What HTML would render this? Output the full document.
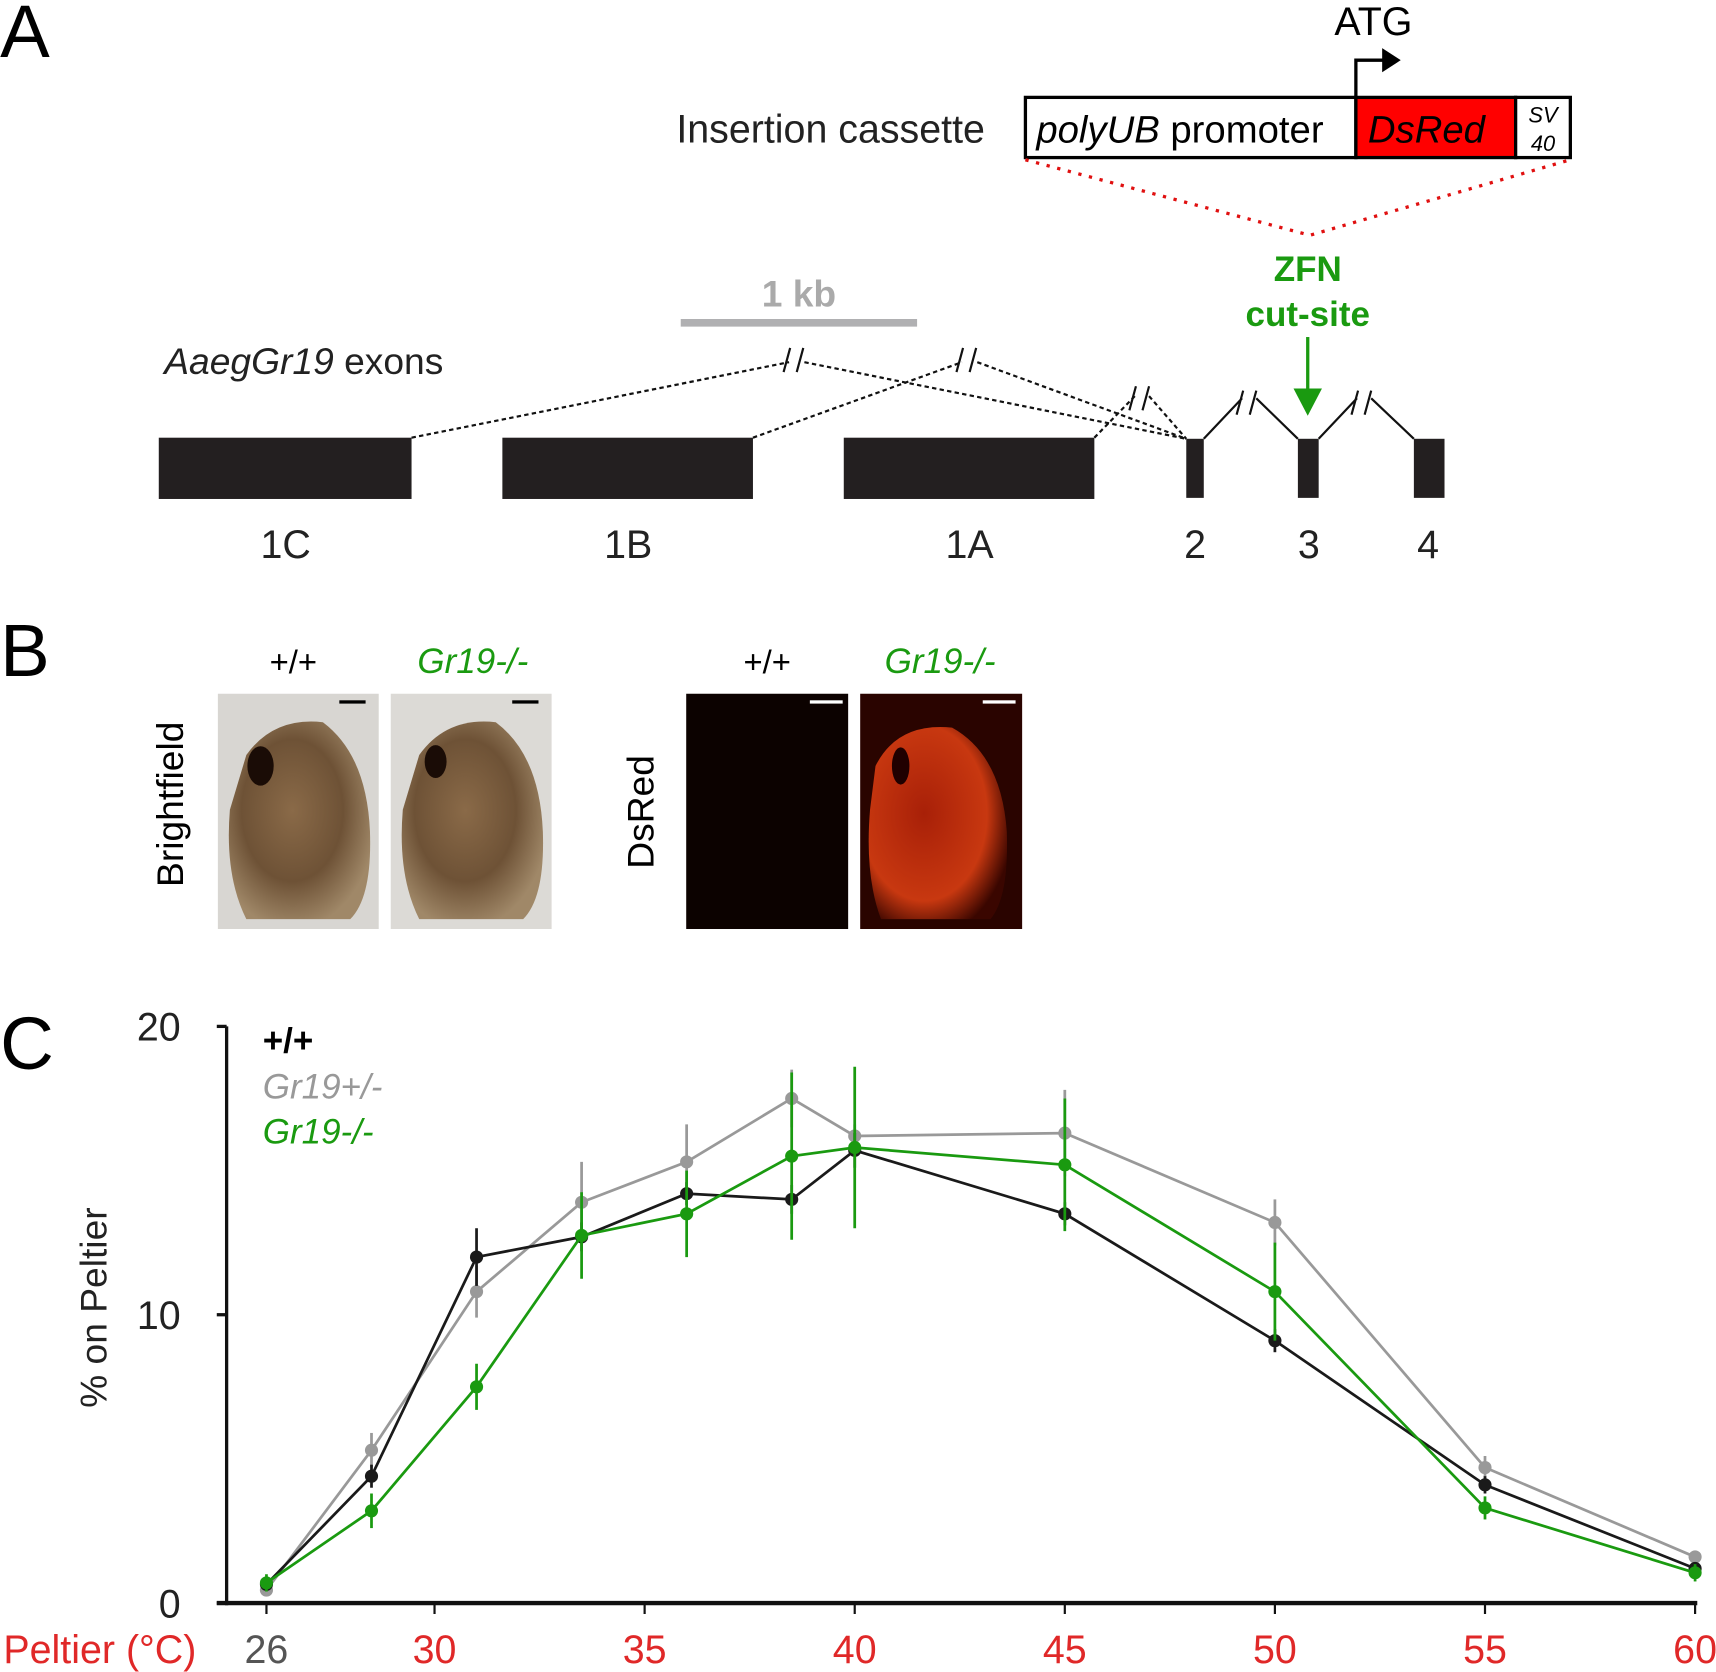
<!DOCTYPE html>
<html><head><meta charset="utf-8"><style>
html,body{margin:0;padding:0;background:#fff;}
svg{display:block;font-family:"Liberation Sans",Arial,sans-serif;}
</style></head><body>
<svg id="fig" width="1716" height="1672" viewBox="0 0 1568 1528">
<defs>
<radialGradient id="pupa" cx="45%" cy="45%" r="60%"><stop offset="0" stop-color="#8a6a48"/><stop offset="0.6" stop-color="#6e5236"/><stop offset="1" stop-color="#a08868"/></radialGradient>
<radialGradient id="fluor" cx="40%" cy="45%" r="65%"><stop offset="0" stop-color="#a82008"/><stop offset="0.7" stop-color="#c83810"/><stop offset="1" stop-color="#3a0600"/></radialGradient>
</defs>
<!-- Panel A -->
<g>
<text x="0" y="52" font-size="68">A</text>
<text x="1255" y="32" font-size="36" text-anchor="middle">ATG</text>
<path d="M1239,89 V55 H1265" fill="none" stroke="#000" stroke-width="3"/>
<polygon points="1263,44 1280,55 1263,66" fill="#000"/>
<text x="900" y="130" font-size="36" text-anchor="end" fill="#222">Insertion cassette</text>
<rect x="937" y="89" width="302" height="55" fill="#fff" stroke="#000" stroke-width="3"/>
<rect x="1239" y="89" width="146" height="55" fill="#ff0000" stroke="#000" stroke-width="3"/>
<rect x="1385" y="89" width="50" height="55" fill="#fff" stroke="#000" stroke-width="3"/>
<text x="947" y="130" font-size="35"><tspan font-style="italic">polyUB</tspan> promoter</text>
<text x="1250" y="130" font-size="35" font-style="italic">DsRed</text>
<text x="1410" y="112" font-size="20" font-style="italic" text-anchor="middle">SV</text>
<text x="1410" y="138" font-size="20" font-style="italic" text-anchor="middle">40</text>
<path d="M937,146 L1197,215 L1435,146" fill="none" stroke="#e01010" stroke-width="3" stroke-dasharray="3,7"/>
<text x="1195" y="257" font-size="32" font-weight="bold" fill="#1a9a10" text-anchor="middle">ZFN</text>
<text x="1195" y="298" font-size="32" font-weight="bold" fill="#1a9a10" text-anchor="middle">cut-site</text>
<line x1="1195" y1="308" x2="1195" y2="360" stroke="#1a9a10" stroke-width="3"/>
<polygon points="1182,355 1208,355 1195,380" fill="#1a9a10"/>
<line x1="622" y1="295" x2="838" y2="295" stroke="#b0b0b2" stroke-width="7"/>
<text x="730" y="280" font-size="34" font-weight="bold" fill="#aaa" text-anchor="middle">1 kb</text>
<text x="150" y="342" font-size="34" fill="#222"><tspan font-style="italic">AaegGr19</tspan> exons</text>
<g fill="none" stroke="#111" stroke-width="2" stroke-dasharray="4,3">
<path d="M376,400 L721,331 M735,331 L1084,401"/>
<path d="M688,400 L879,331 M893,331 L1084,401"/>
<path d="M1000,400 L1037,362 M1050,362 L1084,401"/>
</g>
<g fill="none" stroke="#111" stroke-width="2">
<path d="M1100,401 L1135,364 M1148,364 L1186,401"/>
<path d="M1205,401 L1240,364 M1253,364 L1292,401"/>
<path d="M716,340 L722,318 M728,340 L734,318 M874,340 L880,318 M886,340 L892,318 M1032,375 L1038,353 M1044,375 L1050,353 M1130,379 L1136,357 M1142,379 L1148,357 M1235,379 L1241,357 M1247,379 L1253,357"/>
</g>
<g fill="#231f20">
<rect x="145" y="400" width="231" height="56"/>
<rect x="459" y="400" width="229" height="56"/>
<rect x="771" y="400" width="229" height="56"/>
<rect x="1084" y="401" width="16" height="54"/>
<rect x="1186" y="401" width="19" height="54"/>
<rect x="1292" y="401" width="28" height="54"/>
</g>
<g font-size="36" text-anchor="middle" fill="#222">
<text x="261" y="510">1C</text><text x="574" y="510">1B</text><text x="886" y="510">1A</text>
<text x="1092" y="510">2</text><text x="1196" y="510">3</text><text x="1305" y="510">4</text>
</g>
</g>
<!-- Panel B -->
<g>
<text x="0" y="618" font-size="68">B</text>
<text x="268" y="615" font-size="30" text-anchor="middle">+/+</text>
<text x="432" y="615" font-size="32" font-style="italic" fill="#1a9a10" text-anchor="middle">Gr19-/-</text>
<text x="701" y="615" font-size="30" text-anchor="middle">+/+</text>
<text x="859" y="615" font-size="32" font-style="italic" fill="#1a9a10" text-anchor="middle">Gr19-/-</text>
<text transform="translate(167,735) rotate(-90)" font-size="34" text-anchor="middle">Brightfield</text>
<text transform="translate(597,742) rotate(-90)" font-size="34" text-anchor="middle">DsRed</text>
<g>
<rect x="199" y="634" width="147" height="215" fill="#d8d6d2"/>
<path d="M225,690 Q250,655 295,660 Q335,690 338,760 Q340,820 320,840 L225,840 Q205,800 210,740 Z" fill="url(#pupa)"/>
<ellipse cx="238" cy="700" rx="12" ry="18" fill="#1a0c06"/>
<rect x="310" y="640" width="24" height="3" fill="#000"/>
</g>
<g>
<rect x="357" y="634" width="147" height="215" fill="#dcdad6"/>
<path d="M383,690 Q408,655 453,660 Q493,690 496,760 Q498,820 478,840 L383,840 Q363,800 368,740 Z" fill="url(#pupa)"/>
<ellipse cx="398" cy="696" rx="10" ry="15" fill="#1a0c06"/>
<rect x="468" y="640" width="24" height="3" fill="#000"/>
</g>
<g>
<rect x="627" y="634" width="148" height="215" fill="#0c0200"/>
<rect x="740" y="640" width="30" height="3" fill="#fff"/>
</g>
<g>
<rect x="786" y="634" width="148" height="215" fill="#2a0400"/>
<path d="M800,700 Q820,660 870,665 Q915,690 920,760 Q922,820 905,840 L805,840 Q790,800 795,740 Z" fill="url(#fluor)"/>
<ellipse cx="823" cy="700" rx="8" ry="17" fill="#200000"/>
<rect x="898" y="640" width="30" height="3" fill="#fff"/>
</g>
</g>
<!-- Panel C -->
<text x="0" y="977" font-size="68">C</text>
<g id="chart"></g>
</svg>
<script>
const temps = [26, 28.5, 31, 33.5, 36, 38.5, 40, 45, 50, 55, 60];
const wtVals = [0.65, 4.4, 12.0, 12.7, 14.2, 14.0, 15.7, 13.5, 9.1, 4.1, 1.2];
const wtErr = [0.2, 0.4, 1.0, 0.5, 0.4, 0.5, 0.6, 0.4, 0.4, 0.3, 0.2];
const hetVals = [0.45, 5.3, 10.8, 13.9, 15.3, 17.5, 16.2, 16.3, 13.2, 4.7, 1.6];
const hetErr = [0.2, 0.6, 0.9, 1.4, 1.3, 1.0, 0.4, 1.5, 0.8, 0.4, 0.2];
const koVals = [0.7, 3.2, 7.5, 12.75, 13.5, 15.5, 15.8, 15.2, 10.8, 3.3, 1.05];
const koErr = [0.3, 0.6, 0.8, 1.5, 1.5, 2.9, 2.8, 2.3, 1.7, 0.4, 0.3];
const xTicks = [26, 30, 35, 40, 45, 50, 55, 60];
const yTicks = [0, 10, 20];

const NS = 'http://www.w3.org/2000/svg';
const g = document.getElementById('chart');
function X(t){ return 781 + (t - 40) * 38.4; }
function Y(v){ return 1465 - v * 26.35; }
function mk(tag, attrs, parent){
  const e = document.createElementNS(NS, tag);
  for (const k in attrs) e.setAttribute(k, attrs[k]);
  (parent || g).appendChild(e);
  return e;
}
let e;
e = mk('line', {x1:207, y1:Y(20), x2:207, y2:1467, stroke:'#111', 'stroke-width':3});


e = mk('line', {x1:198, y1:1465, x2:1551, y2:1465, stroke:'#111', 'stroke-width':4});


yTicks.forEach(v => {
  mk('line', {x1:198, y1:Y(v), x2:207, y2:Y(v), stroke:'#111', 'stroke-width':3});
  const t = mk('text', {x:165, y:Y(v)+13, 'font-size':36, 'text-anchor':'end', fill:'#222'});
  t.textContent = v;
  
  
});
xTicks.forEach(v => {
  mk('line', {x1:X(v), y1:1465, x2:X(v), y2:1475, stroke:'#111', 'stroke-width':2});
  const t = mk('text', {x:X(v), y:1520, 'font-size':36, 'text-anchor':'middle', fill: v===26 ? '#555' : '#e02828'});
  t.textContent = v;
  
  
});
e = mk('text', {x:3, y:1520, 'font-size':36, fill:'#e02828'});
e.textContent = 'Peltier (°C)';


e = mk('text', {transform:'translate(97,1195) rotate(-90)', 'font-size':34, 'text-anchor':'middle', fill:'#222'});
e.textContent = '% on Peltier';



function series(vals, errs, color, name){
  const sg = mk('g', {});
  
  
  temps.forEach((t, i) => {
    mk('line', {x1:X(t), y1:Y(vals[i]-errs[i]), x2:X(t), y2:Y(vals[i]+errs[i]), stroke:color, 'stroke-width':2.5}, sg);
  });
  const p = mk('polyline', {points: temps.map((t,i)=>X(t)+','+Y(vals[i])).join(' '), fill:'none', stroke:color, 'stroke-width':2.5}, sg);
  
  
  temps.forEach((t, i) => {
    const c = mk('circle', {cx:X(t), cy:Y(vals[i]), r:6, fill:color}, sg);
    
    
  });
}
series(hetVals, hetErr, '#999999', 'series-gr19-het');
series(wtVals, wtErr, '#1a1a1a', 'series-wildtype');
series(koVals, koErr, '#1a9a10', 'series-gr19-ko');

const leg = [['+/+', '#000', 'bold', 'normal', 962], ['Gr19+/-', '#999', 'normal', 'italic', 1004], ['Gr19-/-', '#1a9a10', 'normal', 'italic', 1045]];
leg.forEach(l => {
  const t = mk('text', {x:240, y:l[4], 'font-size':32, fill:l[1], 'font-weight':l[2], 'font-style':l[3]});
  t.textContent = l[0];
  
  
});
</script>
</body></html>
